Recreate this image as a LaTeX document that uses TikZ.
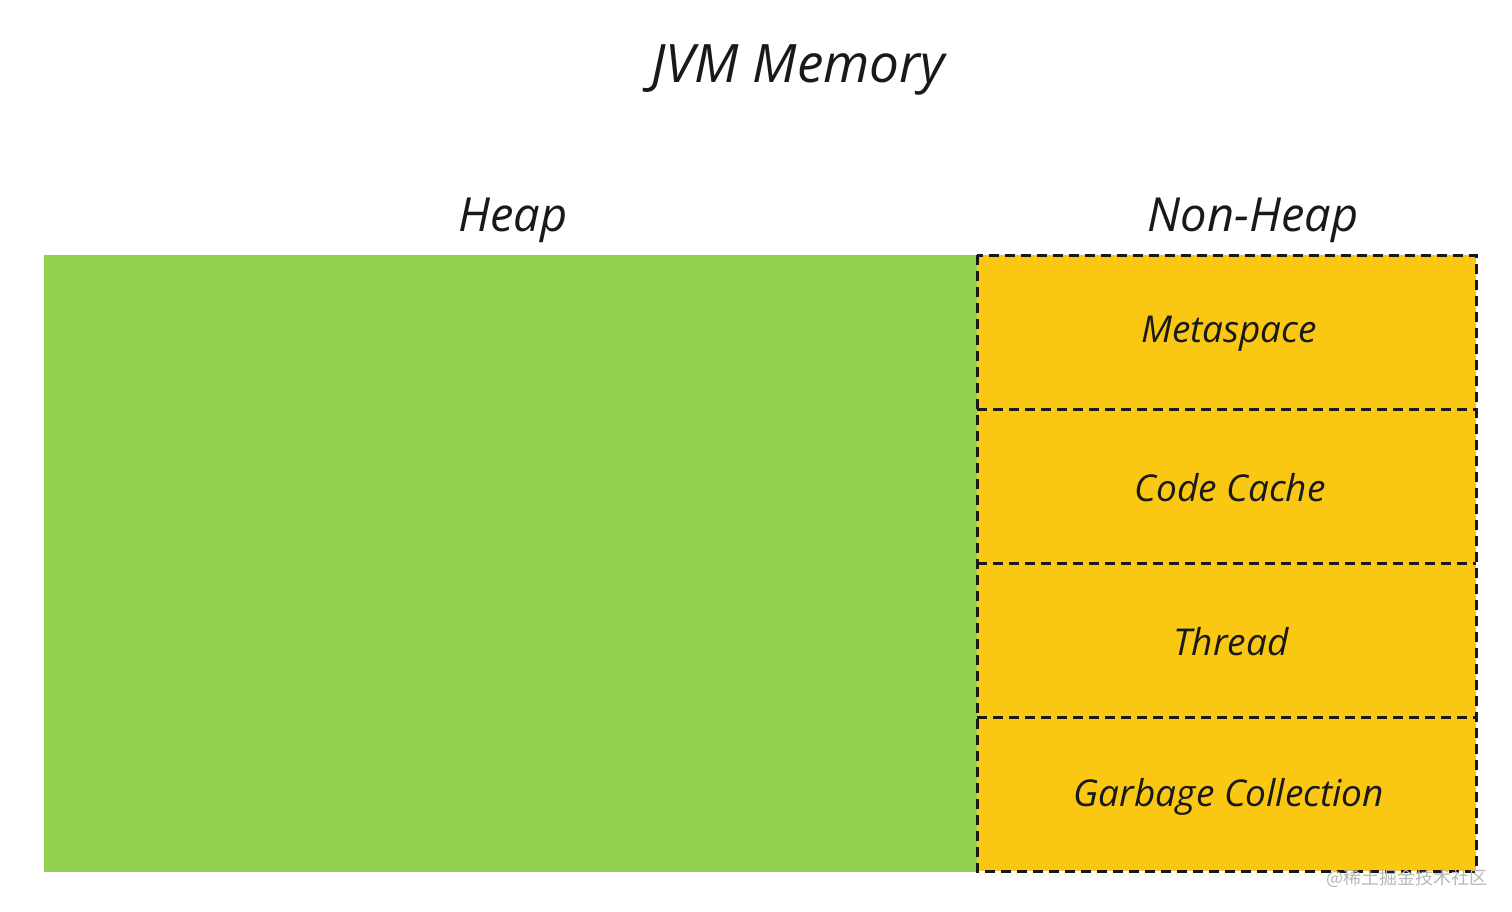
\documentclass[tikz,border=0pt]{standalone}
\usepackage{fontspec}
\setmainfont{Open Sans}
\newfontfamily\cjk{Noto Sans CJK SC}
\definecolor{heapgreen}{HTML}{92D050}
\definecolor{nonheapyellow}{HTML}{FAC713}
\definecolor{wmgray}{HTML}{B8B8B8}
\begin{document}
\begin{tikzpicture}[x=1pt,y=-1pt,
  lbl/.style={font=\itshape\fontsize{37}{42}\selectfont, text=black!90, inner sep=0pt},
  hdr/.style={font=\itshape\fontsize{47}{52}\selectfont, text=black!90, inner sep=0pt},
  dashline/.style={draw=black!90, line width=3pt, dash pattern=on 10pt off 6pt}]
\useasboundingbox (0,0) rectangle (1512,912);
\fill[white] (0,0) rectangle (1512,912);
% heap
\fill[heapgreen] (44,255) rectangle (977,872);
% non-heap
\fill[nonheapyellow] (977,255) rectangle (1476,871);
\draw[dashline] (977,255) rectangle (1476,871);
\draw[dashline] (977,409) -- (1476,409);
\draw[dashline] (977,563) -- (1476,563);
\draw[dashline] (977,717) -- (1476,717);
% labels
\node[hdr, font=\itshape\fontsize{53}{58}\selectfont] (title) at (798,70) {JVM Memory};
\node[hdr] (heap) at (513,220) {Heap};
\node[hdr] (nonheap) at (1253,220) {Non-Heap};
\node[lbl] (meta) at (1229,334) {Metaspace};
\node[lbl] (code) at (1230,488) {Code Cache};
\node[lbl] (thread) at (1231,642) {Thread};
\node[lbl] (gc) at (1229,797) {Garbage Collection};
\node[font=\cjk\fontsize{18}{21}\selectfont, text=wmgray, anchor=east, inner sep=0pt] (wm) at (1488,878) {@稀土掘金技术社区};
\end{tikzpicture}
\end{document}
